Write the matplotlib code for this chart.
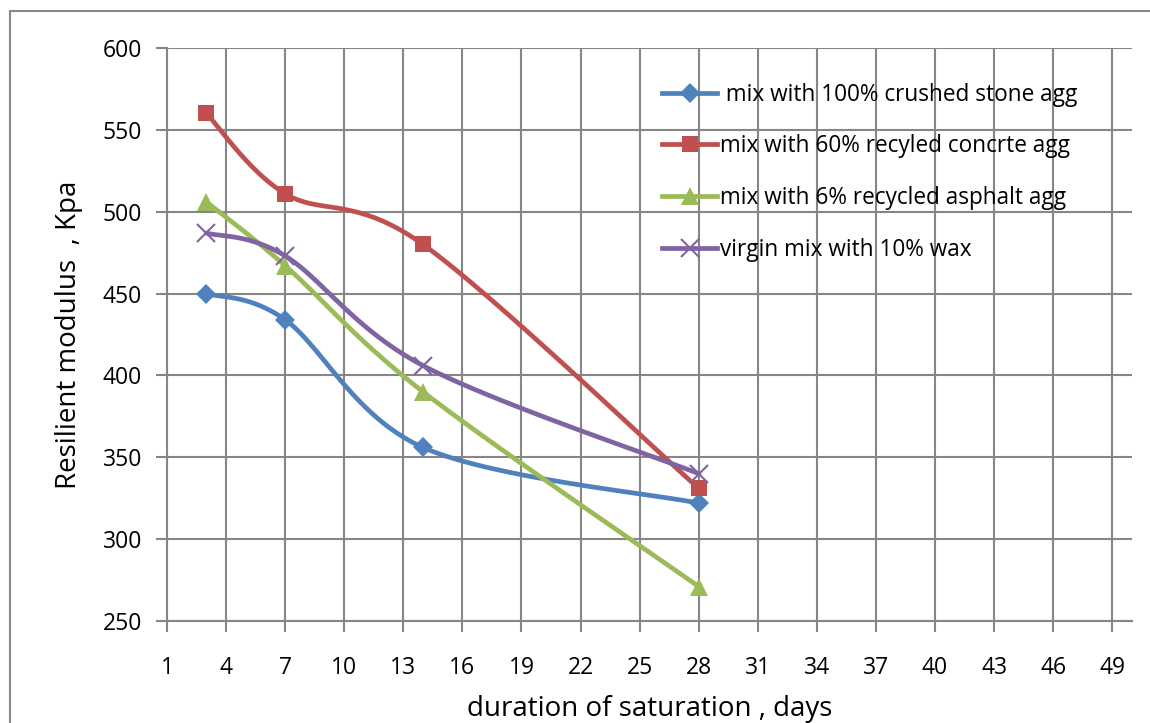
"""
Resilient modulus vs duration of saturation for four asphalt mixes.
Excel-style smoothed lines with markers.
"""
import matplotlib
matplotlib.use("Agg")
import matplotlib.pyplot as plt
import numpy as np
from matplotlib.lines import Line2D
from matplotlib.ticker import MultipleLocator

DAYS = [3, 7, 14, 28]
CRUSHED_STONE = [450, 434, 356, 322]
RECYCLED_CONCRETE = [560, 511, 480, 331]
RECYCLED_ASPHALT = [506, 467, 390, 271]
VIRGIN_WAX = [487, 473, 406, 340]

LABELS = [
    " mix with 100% crushed stone agg",
    "mix with 60% recyled concrte agg",
    "mix with 6% recycled asphalt agg",
    "virgin mix with 10% wax",
]
COLORS = ["#4F81BD", "#C0504D", "#9BBB59", "#8064A2"]
MARKERS = ["D", "s", "^", "x"]
MARKER_SIZES = [10, 11, 13, 13]

X_TICKS = list(range(1, 50, 3))
GRID_COLOR = "#868686"
FONT = "Open Sans"

# pixel scale used so the smoothing behaves like Excel's (done in screen space)
PX_PER_X = 19.7
PX_PER_Y = 1.637


def excel_smooth(xs, ys, n=40):
    """Bezier smoothing with Catmull-Rom style control points (tension 1/6)."""
    p = np.column_stack([np.asarray(xs, float) * PX_PER_X, np.asarray(ys, float) * PX_PER_Y])
    pts = np.vstack([p[0], p, p[-1]])
    out = []
    t = np.linspace(0, 1, n)[:, None]
    for i in range(1, len(pts) - 2):
        p0, p1 = pts[i], pts[i + 1]
        c1 = p0 + (pts[i + 1] - pts[i - 1]) / 6.0
        c2 = p1 - (pts[i + 2] - pts[i]) / 6.0
        seg = ((1 - t) ** 3) * p0 + 3 * ((1 - t) ** 2) * t * c1 + 3 * (1 - t) * t ** 2 * c2 + t ** 3 * p1
        out.append(seg if i == 1 else seg[1:])
    curve = np.vstack(out)
    return curve[:, 0] / PX_PER_X, curve[:, 1] / PX_PER_Y


fig = plt.figure(figsize=(11.5, 7.23), dpi=100)
ax = fig.add_axes([167 / 1150, 1 - 621 / 723, (1132 - 167) / 1150, (621 - 48) / 723])

series = [CRUSHED_STONE, RECYCLED_CONCRETE, RECYCLED_ASPHALT, VIRGIN_WAX]
for ys, label, color, marker, ms in zip(series, LABELS, COLORS, MARKERS, MARKER_SIZES):
    sx, sy = excel_smooth(DAYS, ys)
    ax.plot(sx, sy, color=color, lw=3.4, solid_capstyle="round", zorder=3)
    mew = 1.5 if marker == "x" else 0
    ax.plot(DAYS, ys, linestyle="none", marker=marker, ms=ms, color=color,
            markeredgewidth=mew, zorder=4)

handles = [
    Line2D([], [], color=c, lw=3.4, marker=m, ms=ms, markeredgewidth=(1.5 if m == "x" else 0))
    for c, m, ms in zip(COLORS, MARKERS, MARKER_SIZES)
]
ax.legend(handles, LABELS, loc="upper left", bbox_to_anchor=(0.497, 0.967), frameon=False,
          prop={"family": FONT, "size": 16.3}, handlelength=2.4, handletextpad=0.15,
          labelspacing=1.22, borderaxespad=0.3)

ax.set_xlim(1, 50)
ax.set_ylim(250, 600)
ax.set_xticks(X_TICKS)
ax.yaxis.set_major_locator(MultipleLocator(50))
ax.grid(True, color=GRID_COLOR, lw=1.5)
ax.set_axisbelow(True)
for side in ("top", "right"):
    ax.spines[side].set_visible(False)
for side in ("left", "bottom"):
    ax.spines[side].set_color(GRID_COLOR)
    ax.spines[side].set_linewidth(1.5)
ax.tick_params(direction="out", length=8, width=1.5, color=GRID_COLOR, labelsize=16.5, pad=17)
ax.tick_params(axis="y", pad=10)
for lab in ax.get_xticklabels() + ax.get_yticklabels():
    lab.set_family(FONT)

ax.set_xlabel("duration of saturation , days", fontsize=20, family=FONT, labelpad=11)
ax.set_ylabel("Resilient modulus  , Kpa", fontsize=20, family=FONT, labelpad=14)

# outer chart border (Excel chart area)
fig.add_artist(Line2D([10 / 1150, 1], [1 - 11 / 723] * 2, color="#898989", lw=1.5))
fig.add_artist(Line2D([10 / 1150] * 2, [0, 1 - 11 / 723], color="#898989", lw=1.5))

fig.savefig("out.png", dpi=100, facecolor="white")
